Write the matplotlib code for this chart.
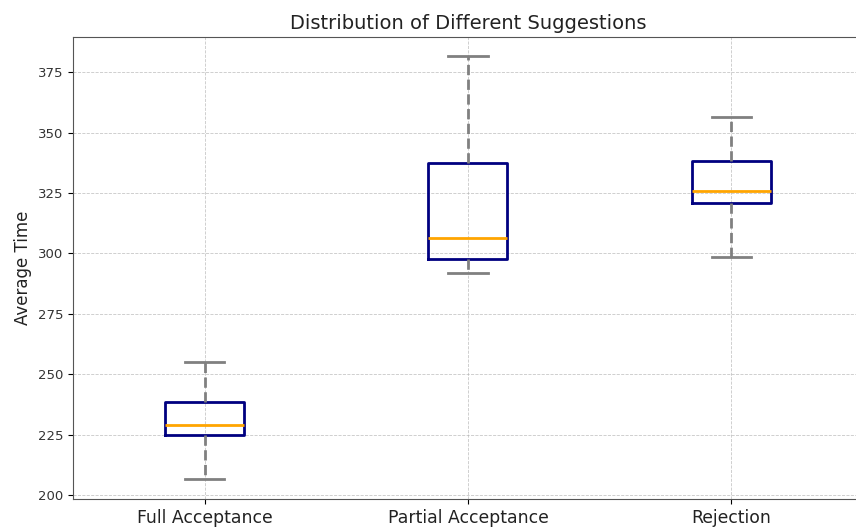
import matplotlib.pyplot as plt

# summary stats per suggestion type (average time)
categories = ["Full Acceptance", "Partial Acceptance", "Rejection"]
whisker_low = [206.8, 291.9, 298.6]
q1 = [225.0, 297.7, 320.9]
medians = [229.1, 306.4, 325.8]
q3 = [238.6, 337.4, 338.2]
whisker_high = [255.2, 381.6, 356.4]

stats = []
for i in range(len(categories)):
    stats.append({
        "label": categories[i],
        "whislo": whisker_low[i],
        "q1": q1[i],
        "med": medians[i],
        "q3": q3[i],
        "whishi": whisker_high[i],
        "fliers": [],
    })

fig = plt.figure(figsize=(8.56, 5.27), dpi=100)
ax = fig.add_axes([73 / 856, 28 / 527, 790 / 856, 462 / 527])

ax.bxp(stats, widths=0.3,
       boxprops=dict(color="navy", linewidth=2),
       medianprops=dict(color="orange", linewidth=2),
       whiskerprops=dict(color="gray", linewidth=2, linestyle="--"),
       capprops=dict(color="gray", linewidth=2))

ax.set_xlim(0.5, 3.5)
ax.set_ylim(198.5, 389.5)
ax.set_title("Distribution of Different Suggestions", fontsize=14, color="#222222")
ax.set_ylabel("Average Time", fontsize=12, color="#222222")
ax.tick_params(axis="x", labelsize=12.4, labelcolor="#222222")
ax.tick_params(axis="y", labelsize=9.5, labelcolor="#333333")
ax.grid(True, linestyle="--", linewidth=0.6, alpha=0.7)
for s in ax.spines.values():
    s.set_color("#555555")

fig.savefig("out.png", dpi=100)
